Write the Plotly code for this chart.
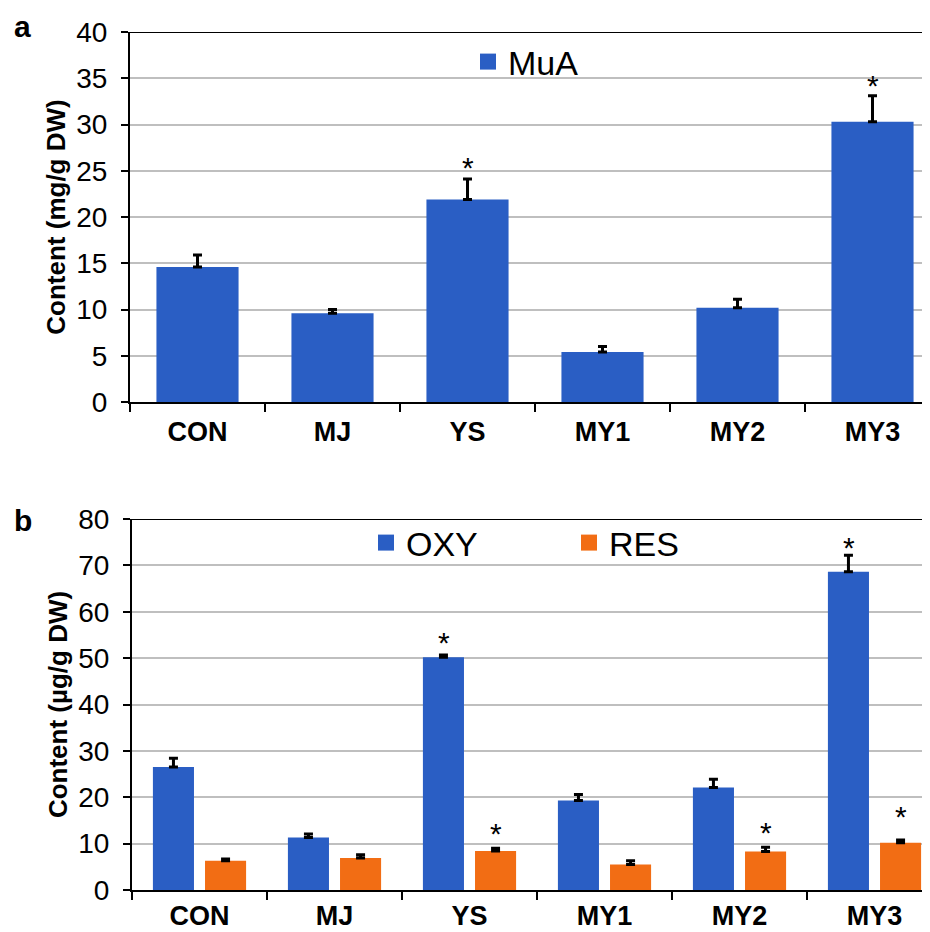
import plotly.graph_objects as go

# ---------------- data ----------------
categories = ["CON", "MJ", "YS", "MY1", "MY2", "MY3"]

mua = [14.6, 9.6, 21.9, 5.4, 10.2, 30.3]
mua_err = [1.3, 0.4, 2.2, 0.6, 0.9, 2.8]
mua_star = ["", "", "*", "", "", "*"]

oxy = [26.5, 11.3, 50.2, 19.3, 22.1, 68.6]
oxy_err = [1.9, 0.8, 0.5, 1.3, 1.8, 3.6]
oxy_star = ["", "", "*", "", "", "*"]

res = [6.3, 6.9, 8.4, 5.5, 8.3, 10.2]
res_err = [0.4, 0.7, 0.6, 0.8, 0.9, 0.6]
res_star = ["", "", "*", "", "*", "*"]

yticks_a = [0, 5, 10, 15, 20, 25, 30, 35, 40]
yticks_b = [0, 10, 20, 30, 40, 50, 60, 70, 80]

# ---------------- style ----------------
W, H = 930, 932
OFF = 8  # page body margin
BLUE = "#2A5EC4"
ORANGE = "#F26D14"
FONT = "Liberation Sans, Arial, sans-serif"

def fx(px):
    return (px - OFF) / W

def fy(px):
    return 1 - (px - OFF) / H

fig = go.Figure()

err_style = dict(type="data", symmetric=False, color="black", thickness=3, width=4.5)

fig.add_trace(go.Bar(x=categories, y=mua, name="MuA", marker=dict(color=BLUE, line=dict(width=0)),
                     error_y=dict(array=mua_err, arrayminus=[0]*6, **err_style),
                     xaxis="x", yaxis="y", showlegend=False))
fig.add_trace(go.Bar(x=categories, y=oxy, name="OXY", marker=dict(color=BLUE, line=dict(width=0)),
                     error_y=dict(array=oxy_err, arrayminus=[0]*6, **err_style),
                     xaxis="x2", yaxis="y2", showlegend=False, offsetgroup="oxy"))
fig.add_trace(go.Bar(x=categories, y=res, name="RES", marker=dict(color=ORANGE, line=dict(width=0)),
                     error_y=dict(array=res_err, arrayminus=[0]*6, **err_style),
                     xaxis="x2", yaxis="y2", showlegend=False, offsetgroup="res"))

# legend entries (square symbols)
fig.add_trace(go.Scatter(x=[None], y=[None], mode="markers", name="MuA",
                         marker=dict(symbol="square", size=16, color=BLUE),
                         xaxis="x", yaxis="y", legend="legend"))
fig.add_trace(go.Scatter(x=[None], y=[None], mode="markers", name="OXY",
                         marker=dict(symbol="square", size=16, color=BLUE),
                         xaxis="x2", yaxis="y2", legend="legend2"))
fig.add_trace(go.Scatter(x=[None], y=[None], mode="markers", name="RES",
                         marker=dict(symbol="square", size=16, color=ORANGE),
                         xaxis="x2", yaxis="y2", legend="legend2"))

# significance asterisks
ann = []
lift_a = {2: 18, 5: 16}
lift_oxy = {2: 18, 5: 14}
lift_res = {2: 21, 4: 21, 5: 29}
STAR = dict(size=30, color="black", family=FONT)
K = 6
for i, c in enumerate(categories):
    if mua_star[i]:
        ann.append(dict(x=c, y=mua[i] + mua_err[i], xref="x", yref="y", text=mua_star[i],
                        showarrow=False, yanchor="middle", yshift=lift_a[i] - K, font=STAR))
    if oxy_star[i]:
        ann.append(dict(x=c, y=oxy[i] + oxy_err[i], xref="x2", yref="y2", text=oxy_star[i],
                        showarrow=False, yanchor="middle", yshift=lift_oxy[i] - K, xshift=-26, font=STAR))
    if res_star[i]:
        ann.append(dict(x=c, y=res[i] + res_err[i], xref="x2", yref="y2", text=res_star[i],
                        showarrow=False, yanchor="middle", yshift=lift_res[i] - K, xshift=26, font=STAR))

# panel letters
ann.append(dict(x=fx(12), y=fy(26), xref="paper", yref="paper", text="a", showarrow=False,
                xanchor="left", yanchor="middle", font=dict(size=30, family=FONT, color="black", weight="bold")))
ann.append(dict(x=fx(12), y=fy(520), xref="paper", yref="paper", text="b", showarrow=False,
                xanchor="left", yanchor="middle", font=dict(size=30, family=FONT, color="black", weight="bold")))

xcommon = dict(type="category", tickson="boundaries", ticks="outside", ticklen=8, tickwidth=2,
               tickcolor="black", showline=True, linecolor="black", linewidth=2, showgrid=False,
               tickfont=dict(size=27, family=FONT, color="black", weight="bold"),
               zeroline=False, automargin=False)
ycommon = dict(ticks="outside", ticklen=7, tickwidth=2, tickcolor="black", showline=True,
               linecolor="black", linewidth=2, showgrid=True, gridcolor="#BFBFBF", gridwidth=1.5,
               zeroline=False, tickfont=dict(size=28, family=FONT, color="black"),
               ticklabelstandoff=8, automargin=False)

fig.update_layout(
    width=W, height=H, margin=dict(l=0, r=0, t=0, b=0, autoexpand=False),
    paper_bgcolor="white", plot_bgcolor="white",
    barmode="group", bargap=0.228, bargroupgap=0.212,
    font=dict(family=FONT, color="black"),
    xaxis=dict(domain=[fx(130), fx(930)], range=[-0.5, -0.5 + 800 / 135], anchor="y",
               ticklabelstandoff=5, **xcommon),
    yaxis=dict(domain=[fy(402), fy(32)], range=[0, 40], tickvals=yticks_a, anchor="x",
               title=dict(text="Content (mg/g DW)", standoff=3,
                          font=dict(size=26, family=FONT, color="black", weight="bold")),
               **ycommon),
    xaxis2=dict(domain=[fx(132), fx(930)], range=[-0.5, -0.5 + 798 / 135], anchor="y2",
                ticklabelstandoff=1, **xcommon),
    yaxis2=dict(domain=[fy(890), fy(519)], range=[0, 80], tickvals=yticks_b, anchor="x2",
                title=dict(text="Content (µg/g DW)", standoff=3,
                           font=dict(size=26, family=FONT, color="black", weight="bold")),
                **ycommon),
    legend=dict(x=fx(468), y=fy(62), xanchor="left", yanchor="middle", orientation="h",
                bgcolor="rgba(0,0,0,0)", font=dict(size=34, family=FONT, color="black")),
    legend2=dict(x=fx(366), y=fy(543), xanchor="left", yanchor="middle", orientation="h",
                 bgcolor="rgba(0,0,0,0)", entrywidth=158, entrywidthmode="pixels",
                 font=dict(size=34, family=FONT, color="black")),
    annotations=ann,
    shapes=[
        dict(type="line", xref="x domain", yref="y", x0=0, x1=1, y0=40, y1=40,
             line=dict(color="black", width=2), layer="above"),
        dict(type="line", xref="x2 domain", yref="y2", x0=0, x1=1, y0=80, y1=80,
             line=dict(color="black", width=2), layer="above"),
    ],
)

fig.write_html("out.html")
